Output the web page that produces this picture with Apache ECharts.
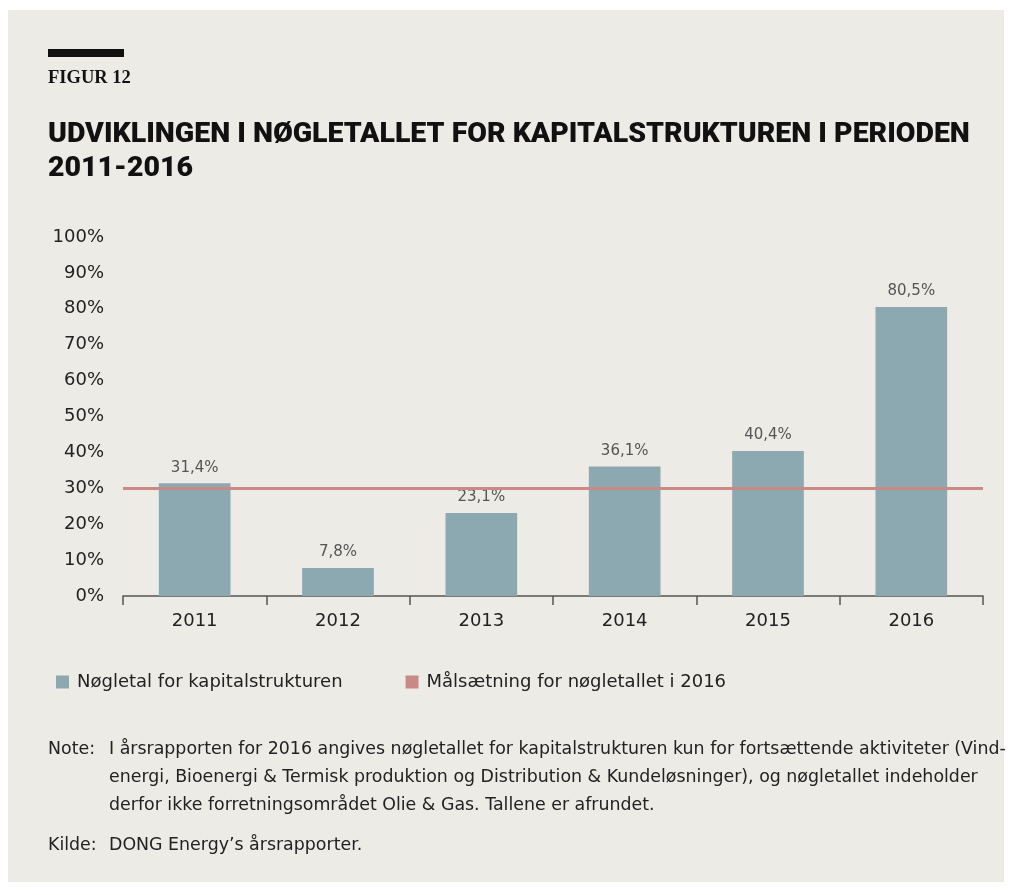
<!DOCTYPE html>
<html>
<head>
<meta charset="utf-8">
<script src="https://cdn.jsdelivr.net/npm/echarts@6/dist/echarts.min.js"></script>
<style>
  html, body { margin: 0; padding: 0; background: #fff; }
  #chart { width: 1012px; height: 895px; }
</style>
</head>
<body>
<div id="chart"></div>
<script>
const years = ["2011", "2012", "2013", "2014", "2015", "2016"];
const ratioValues = [31.4, 7.8, 23.1, 36.1, 40.4, 80.5];
const targetValue = 30;
const yTicks = [0, 10, 20, 30, 40, 50, 60, 70, 80, 90, 100];

const noteLines = [
  "I årsrapporten for 2016 angives nøgletallet for kapitalstrukturen kun for fortsættende aktiviteter (Vind-",
  "energi, Bioenergi & Termisk produktion og Distribution & Kundeløsninger), og nøgletallet indeholder",
  "derfor ikke forretningsområdet Olie & Gas. Tallene er afrundet."
];
const sourceText = "DONG Energy’s årsrapporter.";

const BAR_COLOR = "#8ca8b1";
const LINE_COLOR = "#c98a86";
const FONT = "'DejaVu Sans', sans-serif";

const chart = echarts.init(document.getElementById("chart"));

const option = {
  backgroundColor: "#ffffff",
  animation: false,
  textStyle: { fontFamily: FONT },
  graphic: [
    { type: "rect", left: 8, top: 10, shape: { width: 996, height: 872 }, style: { fill: "#edebe6" }, z: -10 },
    { type: "rect", left: 48, top: 49, shape: { width: 76, height: 8 }, style: { fill: "#111" } },
    {
      type: "text", left: 48, top: 69,
      style: { text: "FIGUR 12", fill: "#111", font: "bold 18.5px 'Liberation Serif', serif" }
    },
    {
      type: "text", left: 48, top: 118,
      style: {
        text: "UDVIKLINGEN I NØGLETALLET FOR KAPITALSTRUKTUREN I PERIODEN\n2011-2016",
        fill: "#111", font: "900 28.5px Roboto, sans-serif", lineHeight: 34
      }
    },
    {
      type: "text", left: 48, top: 735,
      style: { text: "Note:", fill: "#222", font: "17.4px " + FONT, lineHeight: 28 }
    },
    {
      type: "text", left: 109, top: 735,
      style: { text: noteLines.join("\n"), fill: "#222", font: "17.4px " + FONT, lineHeight: 28 }
    },
    {
      type: "text", left: 48, top: 831,
      style: { text: "Kilde:", fill: "#222", font: "17.4px " + FONT, lineHeight: 28 }
    },
    {
      type: "text", left: 109, top: 831,
      style: { text: sourceText, fill: "#222", font: "17.4px " + FONT, lineHeight: 28 }
    }
  ],
  legend: {
    left: 51,
    top: 668,
    icon: "rect",
    itemWidth: 13,
    itemHeight: 13,
    itemGap: 63,
    textStyle: { fontSize: 18, color: "#222", fontFamily: FONT, padding: [0, 0, 0, 3] },
    data: ["Nøgletal for kapitalstrukturen", "Målsætning for nøgletallet i 2016"]
  },
  grid: { left: 123, right: 29, top: 237, bottom: 299 },
  xAxis: {
    type: "category",
    data: years,
    axisLine: { lineStyle: { color: "#555", width: 1.5 } },
    axisTick: { show: true, length: 9, lineStyle: { color: "#555", width: 1.5 } },
    axisLabel: { fontSize: 18, color: "#222", margin: 16 }
  },
  yAxis: {
    type: "value",
    min: yTicks[0],
    max: yTicks[yTicks.length - 1],
    interval: 10,
    axisLine: { show: false },
    axisTick: { show: false },
    splitLine: { show: false },
    axisLabel: { fontSize: 18, color: "#222", margin: 19, formatter: (v) => v + "%" }
  },
  series: [
    {
      name: "Nøgletal for kapitalstrukturen",
      type: "bar",
      barWidth: "50%",
      data: ratioValues,
      itemStyle: { color: BAR_COLOR },
      label: {
        show: true,
        position: "top",
        distance: 8,
        fontSize: 15,
        color: "#555",
        formatter: (p) => p.value.toFixed(1).replace(".", ",") + "%"
      }
    },
    {
      name: "Målsætning for nøgletallet i 2016",
      type: "line",
      data: [],
      itemStyle: { color: LINE_COLOR },
      markLine: {
        silent: true,
        symbol: "none",
        label: { show: false },
        lineStyle: { color: LINE_COLOR, width: 3, type: "solid" },
        data: [{ yAxis: targetValue }]
      },
      z: 5
    }
  ]
};

chart.setOption(option);
</script>
</body>
</html>
